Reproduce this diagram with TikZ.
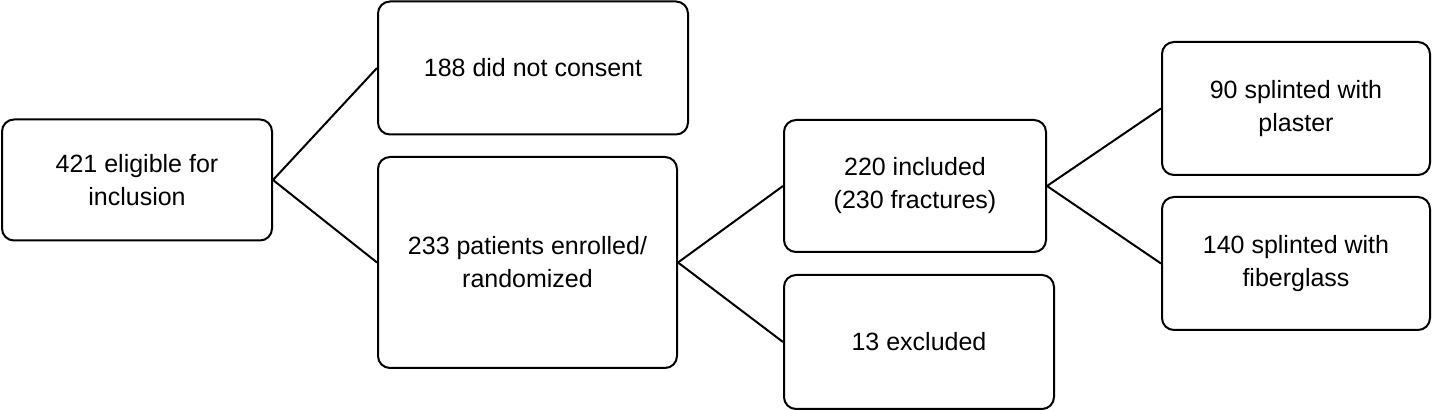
\documentclass[tikz,border=0pt]{standalone}
\usepackage{fontspec}
\setmainfont{Liberation Sans}
\begin{document}
\begin{tikzpicture}[x=1pt,y=-1pt,
  box/.style={draw,line width=2pt,rounded corners=12pt,align=center,font=\fontsize{25}{33}\selectfont},
  ln/.style={line width=2pt}]
\useasboundingbox (0,0) rectangle (1433,411);
\node[box,minimum width=270,minimum height=121] (a) at (137,180) {421 eligible for\\inclusion};
\node[box,minimum width=310,minimum height=133] (b) at (533,68) {188 did not consent};
\node[box,minimum width=299,minimum height=211] (c) at (527.5,262.5) {233 patients enrolled/\\randomized};
\node[box,minimum width=262,minimum height=132] (d) at (915,186) {220 included\\(230 fractures)};
\node[box,minimum width=270,minimum height=134] (e) at (919,342) {13 excluded};
\node[box,minimum width=268,minimum height=133] (f) at (1296,108.5) {90 splinted with\\plaster};
\node[box,minimum width=268,minimum height=133] (g) at (1296,263.5) {140 splinted with\\fiberglass};
\draw[ln] (a.east) -- (b.west);
\draw[ln] (a.east) -- (c.west);
\draw[ln] (c.east) -- (d.west);
\draw[ln] (c.east) -- (e.west);
\draw[ln] (d.east) -- (f.west);
\draw[ln] (d.east) -- (g.west);
\end{tikzpicture}
\end{document}
